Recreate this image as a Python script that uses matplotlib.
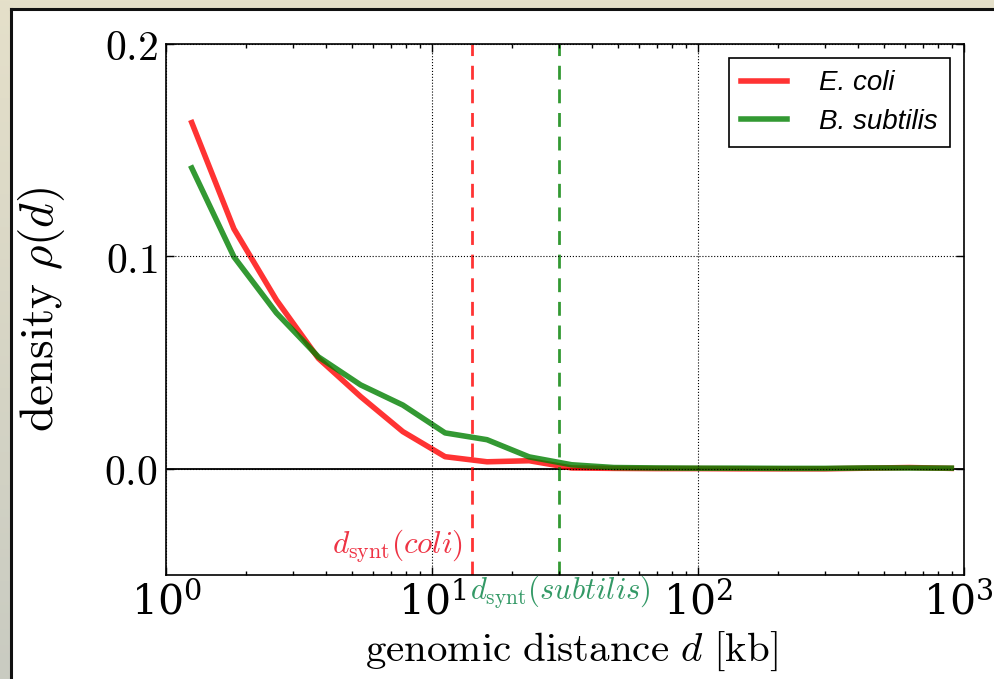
import numpy as np
import matplotlib
matplotlib.use("Agg")
import matplotlib.pyplot as plt
from matplotlib.ticker import LogFormatterMathtext, FormatStrFormatter, FixedLocator
from matplotlib.patches import Rectangle
from matplotlib.lines import Line2D
from matplotlib.colors import LinearSegmentedColormap
from matplotlib.transforms import ScaledTranslation

plt.rcParams["mathtext.fontset"] = "cm"
plt.rcParams["font.family"] = "DejaVu Serif"

# genomic distance bin centres [kb]
distance_kb = [1.25, 1.80, 2.60, 3.74, 5.39, 7.77, 11.2, 16.1, 23.2, 33.5,
               48.2, 69.5, 100.0, 144.0, 208.0, 300.0, 432.0, 622.0, 896.0]

# density rho(d) per organism
rho_coli = [0.163, 0.113, 0.0795, 0.052, 0.034, 0.0175, 0.0057, 0.0033, 0.0038,
            0.0004, 0.0002, 0.0001, 0.0001, 0.0, 0.0, 0.0, 0.0003, 0.0006, 0.0002]
rho_subtilis = [0.1416, 0.0998, 0.0734, 0.0527, 0.0395, 0.030, 0.0169, 0.0137,
                0.0056, 0.0019, 0.0006, 0.0004, 0.0003, 0.0003, 0.0002, 0.0002,
                0.0004, 0.0004, 0.0003]

# synteny distance thresholds [kb]
d_synt_coli = 14.1
d_synt_subtilis = 30.0

series_labels = ["E. coli", "B. subtilis"]

W, H = 994, 679
fig = plt.figure(figsize=(W / 100, H / 100), dpi=100)

# page background with soft vertical gradient
bg = fig.add_axes([0, 0, 1, 1], zorder=-10)
cmap = LinearSegmentedColormap.from_list("page", ["#e5e0ca", "#c9cbc1"])
bg.imshow(np.linspace(0, 1, 256).reshape(-1, 1), aspect="auto", cmap=cmap,
          extent=[0, 1, 0, 1], origin="upper")
bg.set_xlim(0, 1)
bg.set_ylim(0, 1)
bg.axis("off")
# white panel with dark left/top border
px0, py1 = 10.5 / W, 1 - 8.5 / H
bg.add_patch(Rectangle((px0, 0), 1 - px0, py1, facecolor="white", edgecolor="none"))
bg.add_line(Line2D([px0, px0], [0, py1], color="#111111", lw=2.2))
bg.add_line(Line2D([px0, 1], [py1, py1], color="#111111", lw=2.2))

ax = fig.add_axes([166 / W, 1 - 575 / H, (964 - 166) / W, (575 - 44) / H])
ax.set_xscale("log")
ax.set_xlim(1, 1000)
ax.set_ylim(-0.05, 0.2)

ax.axhline(0, color="black", lw=1.3, zorder=1)
ax.plot(distance_kb, rho_coli, color="r", alpha=0.8, lw=4, label=series_labels[0], zorder=2)
ax.plot(distance_kb, rho_subtilis, color="g", alpha=0.8, lw=4, label=series_labels[1], zorder=2)

ax.axvline(d_synt_coli, color="r", alpha=0.8, lw=2, dashes=(5, 3.5), zorder=2)
ax.axvline(d_synt_subtilis, color="g", alpha=0.8, lw=2, dashes=(5, 3.5), zorder=2)

ax.grid(True, which="major", color="black", linestyle=":", lw=0.8, zorder=3)
ax.set_axisbelow(False)

ax.xaxis.set_major_locator(FixedLocator([1, 10, 100, 1000]))
ax.yaxis.set_major_locator(FixedLocator([0.0, 0.1, 0.2]))
ax.yaxis.set_major_formatter(FormatStrFormatter(r"$%.1f$"))
ax.xaxis.set_major_formatter(LogFormatterMathtext())
ax.tick_params(which="both", direction="in", top=True, right=True)
ax.tick_params(axis="y", labelsize=30)
ax.tick_params(axis="x", labelsize=29.5)
ax.tick_params(which="major", length=6, width=1, pad=6)
ax.tick_params(which="minor", length=3, width=1)
for s in ax.spines.values():
    s.set_linewidth(1.2)

ax.set_xlabel(r"$\mathrm{genomic\ distance}\ d\ [\mathrm{kb}]$", fontsize=29.5, va="top")
ax.set_ylabel(r"$\mathrm{density}\ \rho(d)$", fontsize=34)
ax.xaxis.set_label_coords(0.5075, -0.1036)
ax.yaxis.set_label_coords(-0.124, 0.5)

tr = ax.get_xaxis_transform()
ax.text(d_synt_coli / 1.08, 0.053, r"$d_\mathrm{synt}(coli)$", transform=tr,
        ha="right", va="center", fontsize=22.5, color="#ee3344")
ax.text(d_synt_subtilis * 1.01, -0.032, r"$d_\mathrm{synt}(subtilis)$", transform=tr,
        ha="center", va="center", fontsize=22, color="#339966", clip_on=False)

leg = ax.legend(loc="upper right", prop={"family": "Liberation Sans", "style": "italic", "size": 20},
                handlelength=1.65, borderaxespad=0.5, fancybox=False, framealpha=1,
                edgecolor="black", labelspacing=0.45, borderpad=0.45, handletextpad=1.15)
leg.get_frame().set_linewidth(1.2)

# nudge the rightmost decade label so it stays inside the page
fig.canvas.draw()
last = ax.xaxis.get_major_ticks()[-1].label1
last.set_transform(last.get_transform() + ScaledTranslation(-6 / 100, 0, fig.dpi_scale_trans))

fig.savefig("out.png", dpi=100)
